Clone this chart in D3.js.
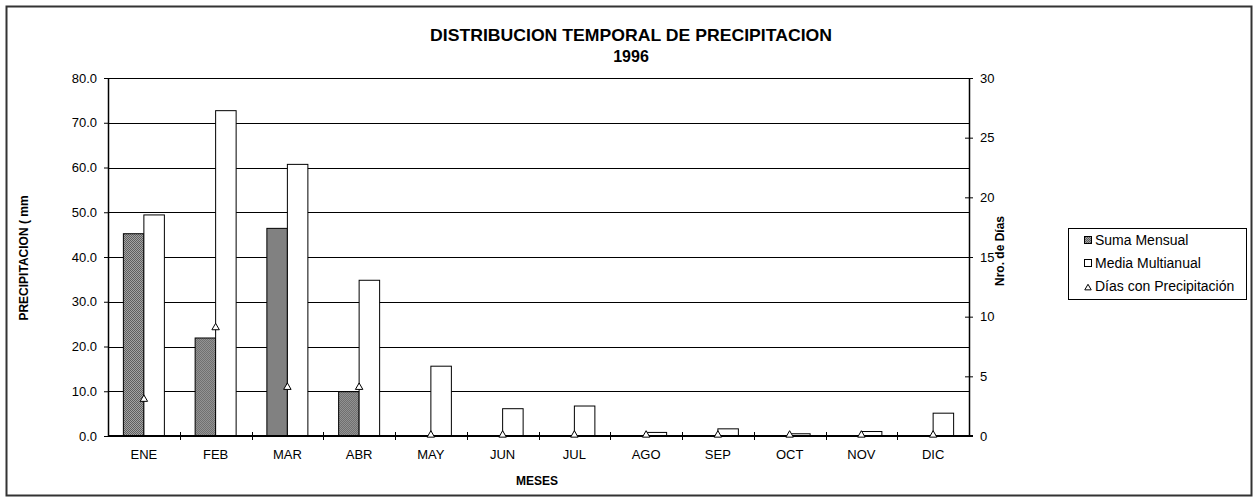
<!DOCTYPE html>
<html>
<head>
  <meta charset="utf-8">
  <title>Distribucion temporal de precipitacion 1996</title>
  <script src="https://d3js.org/d3.v7.min.js"></script>
  <style>
    body { margin: 0; background: #fff; }
    svg { display: block; font-family: "Liberation Sans", Arial, sans-serif; }
  </style>
</head>
<body>
  <div id="chart"></div>
  <script>
    // data
    var months = ["ENE", "FEB", "MAR", "ABR", "MAY", "JUN", "JUL", "AGO", "SEP", "OCT", "NOV", "DIC"];
    var sumaMensual = [45.2, 21.9, 46.4, 9.9, 0, 0, 0, 0, 0, 0, 0, 0];
    var mediaMultianual = [49.4, 72.7, 60.7, 34.8, 15.6, 6.1, 6.7, 0.8, 1.6, 0.5, 1.0, 5.1];
    var diasPrecip = [3, 9, 4, 4, 0, 0, 0, 0, 0, 0, 0, 0];
    var leftTicks = [0, 10, 20, 30, 40, 50, 60, 70, 80];
    var rightTicks = [0, 5, 10, 15, 20, 25, 30];

    var W = 1256, H = 498;
    var plot = {left: 108, right: 969, top: 78, bottom: 436};
    var FONT = "Liberation Sans, Arial, sans-serif";

    var svg = d3.select("#chart").append("svg")
      .attr("width", W)
      .attr("height", H);

    // fine stipple for the monthly sum bars
    var pat = svg.append("defs").append("pattern")
      .attr("id", "hatch")
      .attr("width", 2).attr("height", 2)
      .attr("patternUnits", "userSpaceOnUse");
    pat.append("rect").attr("width", 2).attr("height", 2).attr("fill", "#a4a4a4");
    pat.append("rect").attr("x", 0).attr("y", 0).attr("width", 1).attr("height", 1).attr("fill", "#5e5e5e");
    pat.append("rect").attr("x", 1).attr("y", 1).attr("width", 1).attr("height", 1).attr("fill", "#5e5e5e");

    // outer frame
    svg.append("rect")
      .attr("x", 6.5).attr("y", 6.5)
      .attr("width", 1245).attr("height", 489)
      .attr("fill", "#fff")
      .attr("stroke", "#333")
      .attr("stroke-width", 2);

    var x0 = d3.scaleBand().domain(months).range([plot.left, plot.right]).padding(0);
    var x1 = d3.scaleBand().domain(["suma", "media"])
      .range([0, x0.bandwidth()]).paddingInner(0).paddingOuter(0.75);
    var y = d3.scaleLinear().domain([0, 80]).range([plot.bottom, plot.top]);
    var y2 = d3.scaleLinear().domain([0, 30]).range([plot.bottom, plot.top]);

    // gridlines
    svg.append("g").selectAll("line")
      .data(leftTicks.filter(function(d) { return d > 0; }))
      .enter().append("line")
        .attr("x1", plot.left).attr("x2", plot.right)
        .attr("y1", function(d) { return Math.round(y(d)) + 0.5; })
        .attr("y2", function(d) { return Math.round(y(d)) + 0.5; })
        .attr("stroke", "#000")
        .attr("stroke-width", 1);

    // bars
    var groups = svg.append("g").selectAll("g")
      .data(months)
      .enter().append("g")
        .attr("transform", function(d) { return "translate(" + x0(d) + ",0)"; });

    groups.append("rect")
      .attr("x", x1("suma"))
      .attr("y", function(d, i) { return y(sumaMensual[i]); })
      .attr("width", x1.bandwidth())
      .attr("height", function(d, i) { return y(0) - y(sumaMensual[i]); })
      .attr("fill", "url(#hatch)")
      .attr("stroke", "#000")
      .attr("stroke-width", 1)
      .style("display", function(d, i) { return sumaMensual[i] > 0 ? null : "none"; });

    groups.append("rect")
      .attr("x", x1("media"))
      .attr("y", function(d, i) { return y(mediaMultianual[i]); })
      .attr("width", x1.bandwidth())
      .attr("height", function(d, i) { return y(0) - y(mediaMultianual[i]); })
      .attr("fill", "#fff")
      .attr("stroke", "#000")
      .attr("stroke-width", 1);

    // left axis
    var yAxis = svg.append("g")
      .attr("transform", "translate(" + plot.left + ",0)")
      .call(d3.axisLeft(y).tickValues(leftTicks).tickSizeInner(4).tickSizeOuter(0)
        .tickFormat(d3.format(".1f")).tickPadding(7));
    yAxis.selectAll(".tick line").attr("stroke", "#000");
    yAxis.selectAll("text").attr("font-size", 13).attr("fill", "#000").attr("font-family", FONT);
    yAxis.select(".domain").attr("stroke", "#000").attr("stroke-width", 1.5);

    // right axis
    var y2Axis = svg.append("g")
      .attr("transform", "translate(" + plot.right + ",0)")
      .call(d3.axisRight(y2).tickValues(rightTicks).tickSizeInner(4).tickSizeOuter(0).tickPadding(7));
    y2Axis.selectAll(".tick line").attr("x1", -4).attr("x2", 4).attr("stroke", "#000");
    y2Axis.selectAll("text").attr("font-size", 13).attr("fill", "#000").attr("font-family", FONT);
    y2Axis.select(".domain").attr("stroke", "#000").attr("stroke-width", 1.5);

    // bottom axis: line plus boundary ticks, labels in band centres
    var xAxisG = svg.append("g");
    xAxisG.append("line")
      .attr("x1", plot.left).attr("x2", plot.right + 4)
      .attr("y1", plot.bottom).attr("y2", plot.bottom)
      .attr("stroke", "#000").attr("stroke-width", 2);
    xAxisG.selectAll(".bt")
      .data(months.slice(1))
      .enter().append("line")
        .attr("x1", function(d) { return Math.round(x0(d)) + 0.5; })
        .attr("x2", function(d) { return Math.round(x0(d)) + 0.5; })
        .attr("y1", plot.bottom - 4).attr("y2", plot.bottom + 4)
        .attr("stroke", "#000");
    xAxisG.selectAll("text")
      .data(months)
      .enter().append("text")
        .attr("x", function(d) { return x0(d) + x0.bandwidth() / 2; })
        .attr("y", 459)
        .attr("text-anchor", "middle")
        .attr("font-size", 13)
        .text(function(d) { return d; });

    // triangles for days with precipitation
    var tri = d3.symbol().type(d3.symbolTriangle).size(24);
    svg.append("g").selectAll("path")
      .data(months)
      .enter().append("path")
        .attr("d", tri)
        .attr("transform", function(d, i) {
          return "translate(" + (x0(d) + x0.bandwidth() / 2) + "," + (y2(diasPrecip[i]) - 1) + ")";
        })
        .attr("fill", "#fff")
        .attr("stroke", "#000")
        .attr("stroke-width", 1);

    // titles
    svg.append("text")
      .attr("x", 631).attr("y", 41)
      .attr("text-anchor", "middle")
      .attr("font-size", 16.5).attr("font-weight", "bold")
      .attr("textLength", 402).attr("lengthAdjust", "spacingAndGlyphs")
      .text("DISTRIBUCION TEMPORAL DE PRECIPITACION");
    svg.append("text")
      .attr("x", 631).attr("y", 62)
      .attr("text-anchor", "middle")
      .attr("font-size", 16).attr("font-weight", "bold")
      .text("1996");

    svg.append("text")
      .attr("x", 537).attr("y", 485)
      .attr("text-anchor", "middle")
      .attr("font-size", 12).attr("font-weight", "bold")
      .text("MESES");

    svg.append("text")
      .attr("transform", "translate(28,258) rotate(-90)")
      .attr("text-anchor", "middle")
      .attr("font-size", 12).attr("font-weight", "bold")
      .text("PRECIPITACION ( mm");

    svg.append("text")
      .attr("transform", "translate(1004,251) rotate(-90)")
      .attr("text-anchor", "middle")
      .attr("font-size", 12).attr("font-weight", "bold")
      .text("Nro. de Días");

    // legend
    var leg = svg.append("g").attr("transform", "translate(1068,228)");
    leg.append("rect")
      .attr("x", 0.5).attr("y", 0.5)
      .attr("width", 178).attr("height", 71)
      .attr("fill", "#fff").attr("stroke", "#000");
    var legItems = ["Suma Mensual", "Media Multianual", "Días con Precipitación"];
    legItems.forEach(function(name, i) {
      var base = 17 + i * 23;
      var cy = base - 5;
      if (i === 0) {
        leg.append("rect").attr("x", 16.5).attr("y", cy - 3.5).attr("width", 7).attr("height", 7)
          .attr("fill", "url(#hatch)").attr("stroke", "#000");
      } else if (i === 1) {
        leg.append("rect").attr("x", 16.5).attr("y", cy - 3.5).attr("width", 7).attr("height", 7)
          .attr("fill", "#fff").attr("stroke", "#000");
      } else {
        leg.append("path").attr("d", d3.symbol().type(d3.symbolTriangle).size(18))
          .attr("transform", "translate(20," + (cy + 2) + ")")
          .attr("fill", "#fff").attr("stroke", "#000");
      }
      leg.append("text")
        .attr("x", 27).attr("y", base)
        .attr("font-size", 14)
        .text(name);
    });
  </script>
</body>
</html>
